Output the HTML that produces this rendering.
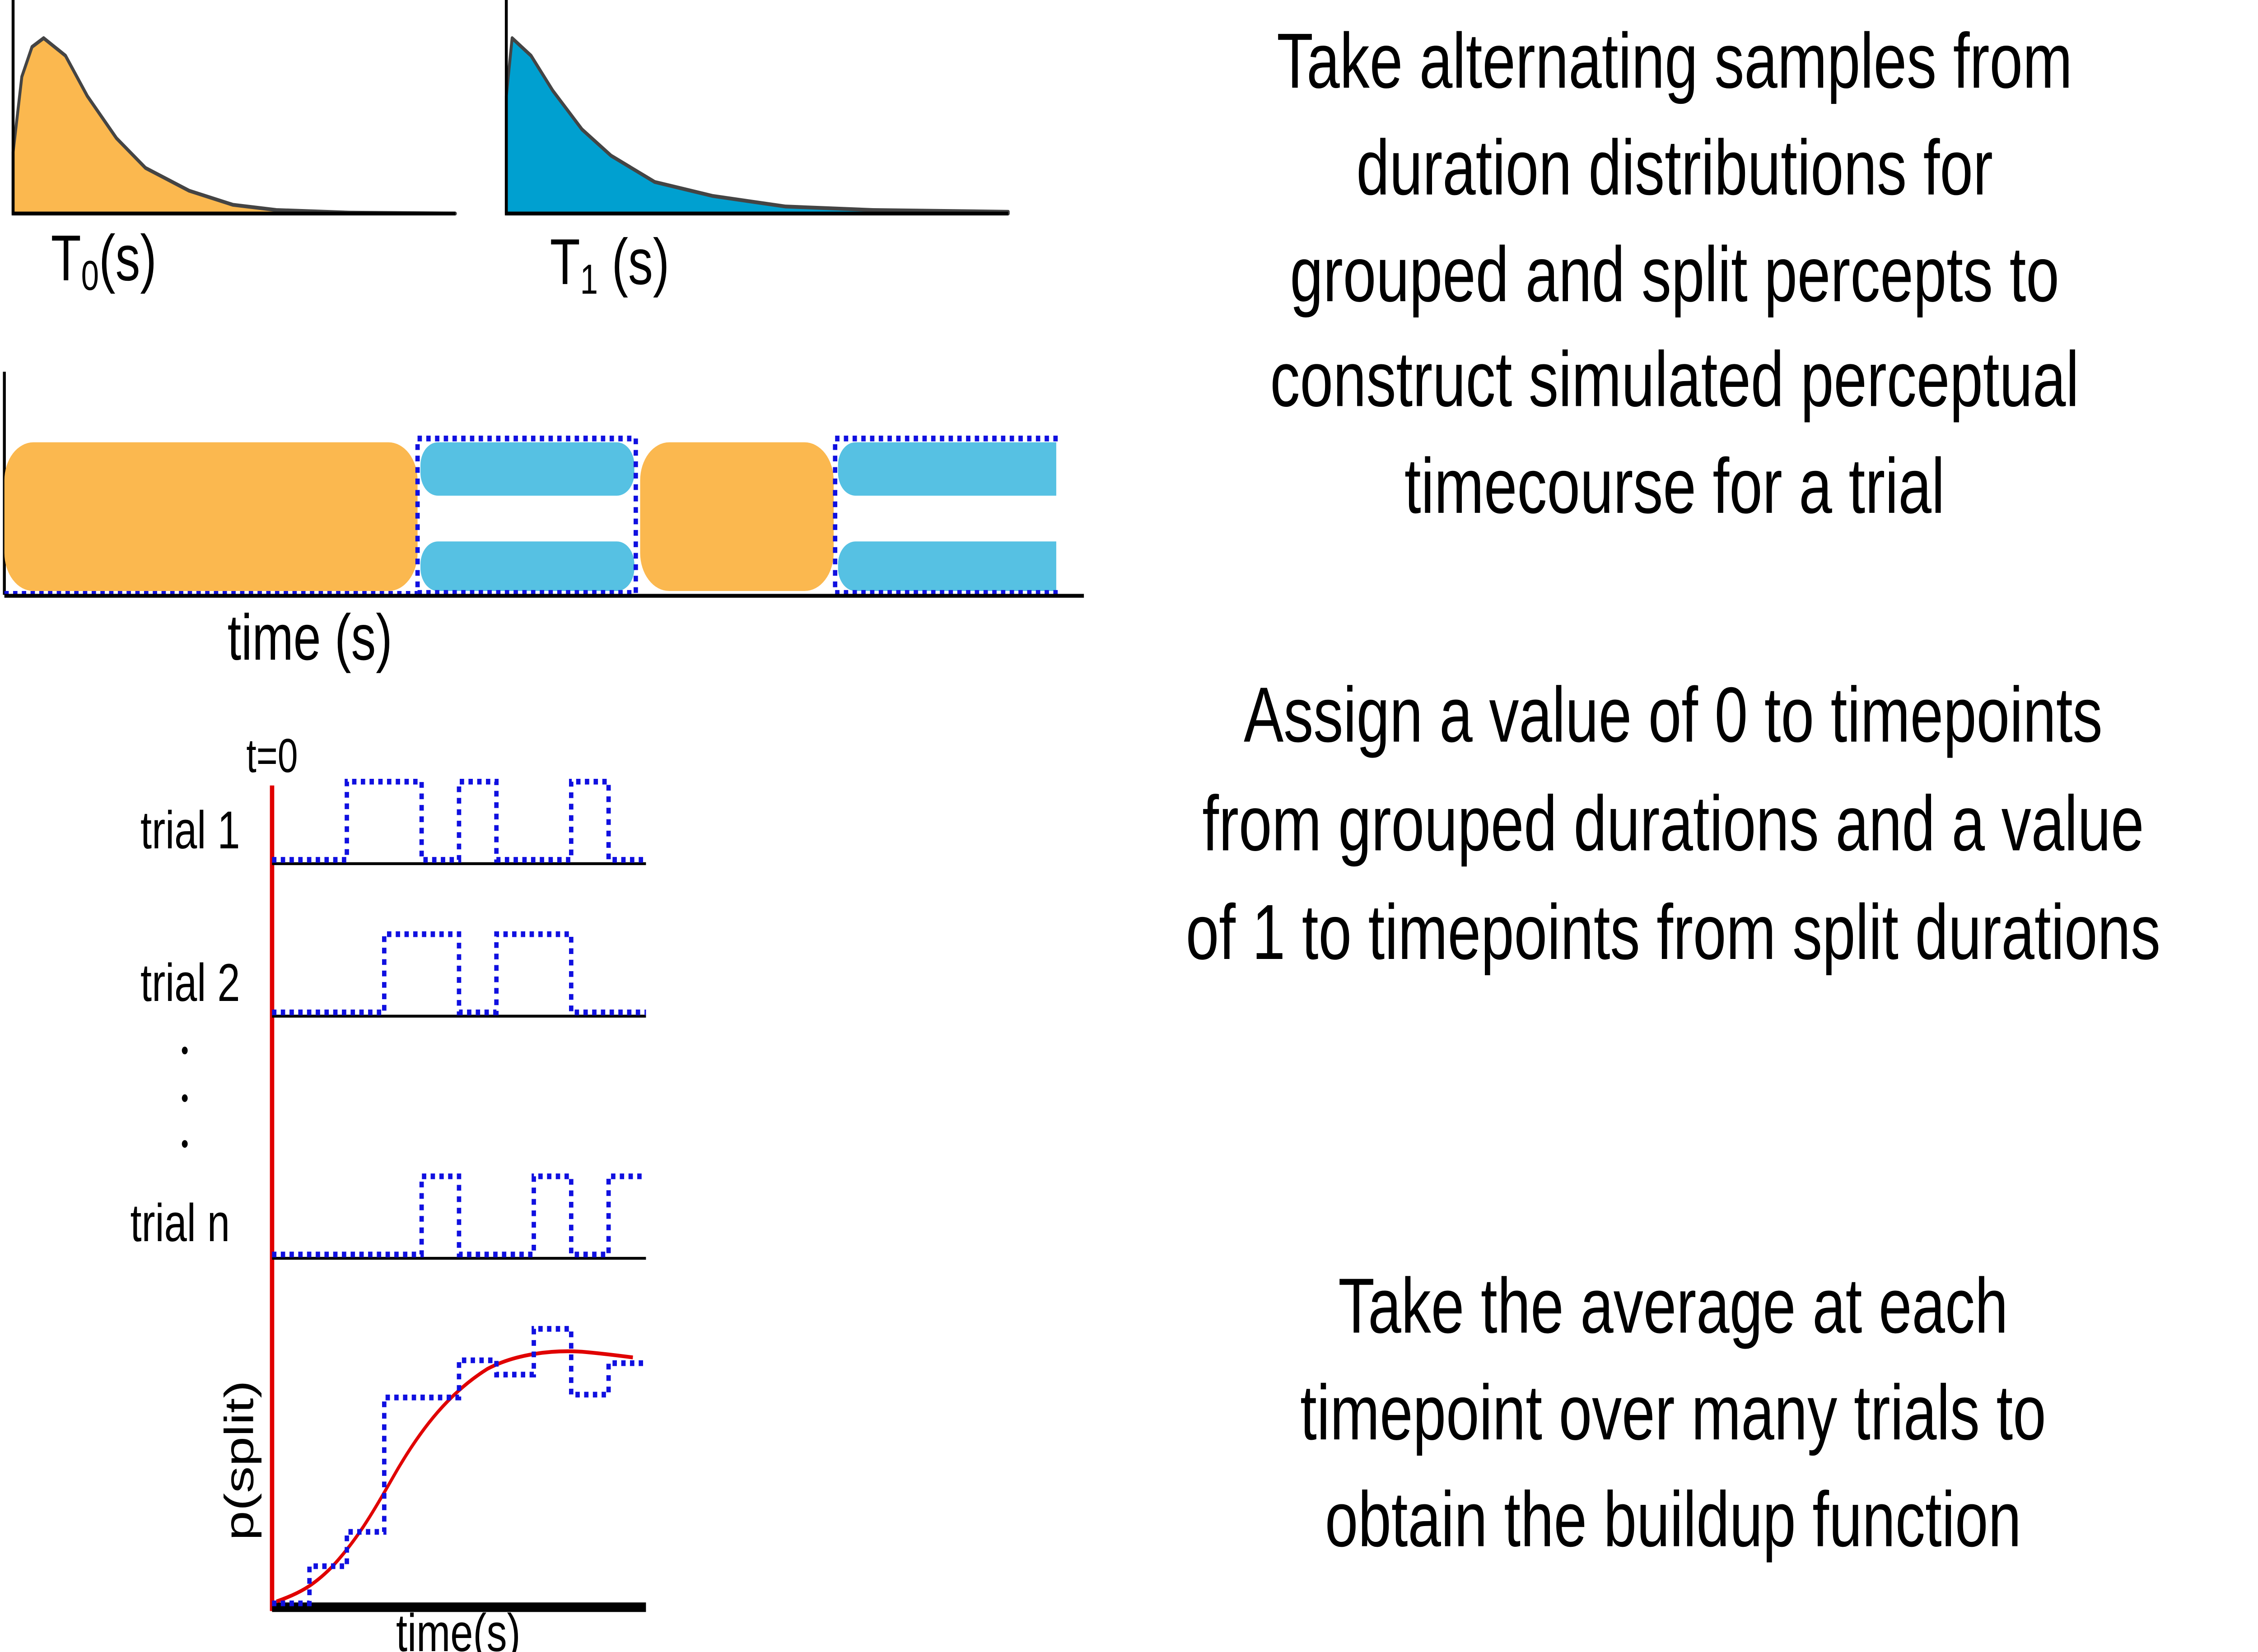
<!DOCTYPE html>
<html><head><meta charset="utf-8">
<style>
html,body{margin:0;padding:0;background:#fff;overflow:hidden;width:100vw;height:100vh;}
svg{display:block;position:fixed;left:0;top:0;width:100vw;height:100vh;}
text{font-family:"Liberation Sans",sans-serif;fill:#000;}
</style></head>
<body>
<svg id="fig" viewBox="0 0 1552 866.5" preserveAspectRatio="none" xmlns="http://www.w3.org/2000/svg">
<g id="dist"></g>
<g>
<text x="35" y="147" font-size="34">T<tspan font-size="22" dy="5">0</tspan><tspan dy="-5">(s)</tspan></text>
<text x="378" y="149" font-size="34">T<tspan font-size="22" dy="5">1</tspan><tspan dy="-5"> (s)</tspan></text>
</g>
<g>
<line x1="3" y1="195" x2="3" y2="312" stroke="#000" stroke-width="2"/>
<rect x="3" y="232" width="284" height="78" rx="20" fill="#fbb84f"/>
<rect x="289" y="232" width="147" height="28" rx="12" fill="#56c1e3"/>
<rect x="289" y="284" width="147" height="26" rx="12" fill="#56c1e3"/>
<rect x="440" y="232" width="133" height="78" rx="20" fill="#fbb84f"/>
<path d="M588 232H726V260H588A12 12 0 0 1 576 248V244A12 12 0 0 1 588 232Z" fill="#56c1e3"/>
<path d="M588 284H726V310H588A12 12 0 0 1 576 298V296A12 12 0 0 1 588 284Z" fill="#56c1e3"/>
<rect x="287" y="230" width="150" height="81" fill="none" stroke="#1010e0" stroke-width="3" stroke-dasharray="3 3"/>
<path d="M727 230H574V311H727" fill="none" stroke="#1010e0" stroke-width="3" stroke-dasharray="3 3"/>
<path d="M3 311H287" fill="none" stroke="#1010e0" stroke-width="2" stroke-dasharray="3 3"/>
<line x1="3" y1="312.5" x2="745" y2="312.5" stroke="#000" stroke-width="2"/>
<text x="213" y="346" font-size="34" text-anchor="middle">time (s)</text>
</g>
<g id="trials">
<text x="187" y="405" font-size="25" text-anchor="middle">t=0</text>
<line x1="187" y1="412" x2="187" y2="845" stroke="#e00000" stroke-width="3"/>
<text x="165" y="445" font-size="28" text-anchor="end">trial 1</text>
<text x="165" y="525" font-size="28" text-anchor="end">trial 2</text>
<text x="158" y="651" font-size="28" text-anchor="end">trial n</text>
<circle cx="127" cy="551" r="2" fill="#000"/>
<circle cx="127" cy="576" r="2" fill="#000"/>
<circle cx="127" cy="600" r="2" fill="#000"/>
<line x1="187" y1="843" x2="444" y2="843" stroke="#000" stroke-width="5"/>
<text transform="translate(174,766) rotate(-90)" font-size="28" text-anchor="middle">p(split)</text>
<text x="315" y="866" font-size="28" text-anchor="middle">time(s)</text>
<path d="M190 840 C205 836 215 832 228 822 C245 808 255 795 270 775 C290 748 310 730 335 718 C355 710 380 708 400 709 C415 710 425 711 435 712" fill="none" stroke="#e00000" stroke-width="2"/>
</g>
<g font-size="41">
<text x="1151" y="46" text-anchor="middle">Take alternating samples from</text>
<text x="1151" y="102" text-anchor="middle">duration distributions for</text>
<text x="1151" y="158" text-anchor="middle">grouped and split percepts to</text>
<text x="1151" y="213" text-anchor="middle">construct simulated perceptual</text>
<text x="1151" y="269" text-anchor="middle">timecourse for a trial</text>
<text x="1150" y="389" text-anchor="middle">Assign a value of 0 to timepoints</text>
<text x="1150" y="446" text-anchor="middle">from grouped durations and a value</text>
<text x="1150" y="503" text-anchor="middle">of 1 to timepoints from split durations</text>
<text x="1150" y="699" text-anchor="middle">Take the average at each</text>
<text x="1150" y="755" text-anchor="middle">timepoint over many trials to</text>
<text x="1150" y="811" text-anchor="middle">obtain the buildup function</text>
</g>
</svg>
<script>
// distribution data (pixel-offset from axis, relative density)
const dist0X = [0, 6, 13, 21, 36, 51, 71, 91, 121, 151, 181, 231, 304];
const dist0Y = [0.35, 0.78, 0.95, 1.0, 0.9, 0.67, 0.43, 0.26, 0.13, 0.05, 0.02, 0.005, 0];
const dist1X = [0, 4, 17, 32, 52, 72, 102, 142, 192, 252, 345];
const dist1Y = [0.67, 1.0, 0.9, 0.7, 0.48, 0.33, 0.18, 0.1, 0.04, 0.02, 0.01];
// trial transitions (time units 0..10), and state after each transition
const trial1Times = [0, 2, 4, 5, 6, 8, 9, 10];
const trial1States = [0, 1, 0, 1, 0, 1, 0];
const trial2Times = [0, 3, 5, 6, 8, 10];
const trial2States = [0, 1, 0, 1, 0];
const trialNTimes = [0, 4, 5, 7, 8, 9, 10];
const trialNStates = [0, 1, 0, 1, 0, 1];
const avgTimes = [0, 1, 2, 3, 5, 6, 7, 8, 9, 10];
const avgValues = [0, 0.13, 0.25, 0.72, 0.85, 0.8, 0.96, 0.73, 0.84];

const NS = "http://www.w3.org/2000/svg";
const xT = t => 187 + t * 25.7;
function distPath(g, ax, xs, ys, fill, name) {
  const base = 112, h = 92;
  let d = "M" + ax + " " + base;
  xs.forEach((x, i) => { d += " L" + (ax + x) + " " + (base - ys[i] * h); });
  d += " L" + (ax + xs[xs.length - 1]) + " " + base + "Z";
  const p = document.createElementNS(NS, "path");
  p.setAttribute("d", d);
  p.setAttribute("fill", fill);
  p.setAttribute("stroke", "#444");
  p.setAttribute("stroke-width", "2");
  p.setAttribute("stroke-linejoin", "round");
  
  
  g.appendChild(p);
}
const dg = document.getElementById("dist");
distPath(dg, 9, dist0X, dist0Y, "#fbb84f", "grouped-duration-distribution");
distPath(dg, 348, dist1X, dist1Y, "#00a0d0", "split-duration-distribution");
[[9, 313], [348, 693]].forEach((a, i) => {
  const v = document.createElementNS(NS, "path");
  v.setAttribute("d", "M" + a[0] + " 0V112H" + a[1]);
  v.setAttribute("fill", "none");
  v.setAttribute("stroke", "#000");
  v.setAttribute("stroke-width", "2");
  
  
  dg.appendChild(v);
});

const tg = document.getElementById("trials");
function stepPath(times, vals, base, h, name) {
  let d = "";
  vals.forEach((v, i) => {
    const y = base - v * h;
    d += (i === 0 ? "M" : " L") + xT(times[i]) + " " + y + " L" + xT(times[i + 1]) + " " + y;
  });
  const p = document.createElementNS(NS, "path");
  p.setAttribute("d", d);
  p.setAttribute("fill", "none");
  p.setAttribute("stroke", "#1010e0");
  p.setAttribute("stroke-width", "3");
  p.setAttribute("stroke-dasharray", "3 3");
  
  
  tg.appendChild(p);
}
[[453, "trial-1"], [533, "trial-2"], [660, "trial-n"]].forEach(r => {
  const l = document.createElementNS(NS, "line");
  l.setAttribute("x1", 187); l.setAttribute("x2", 444);
  l.setAttribute("y1", r[0]); l.setAttribute("y2", r[0]);
  l.setAttribute("stroke", "#000"); l.setAttribute("stroke-width", "1.5");
  
  
  tg.appendChild(l);
});
stepPath(trial1Times, trial1States, 451, 41, "trial-1-timecourse");
stepPath(trial2Times, trial2States, 531, 41, "trial-2-timecourse");
stepPath(trialNTimes, trialNStates, 658, 41, "trial-n-timecourse");
stepPath(avgTimes, avgValues, 841, 150, "average-timecourse");
</script>
</body></html>
